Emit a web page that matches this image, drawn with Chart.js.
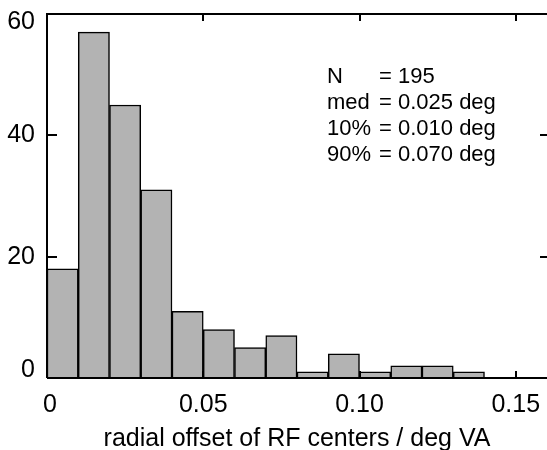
<!DOCTYPE html>
<html>
<head>
<meta charset="utf-8">
<script src="https://cdn.jsdelivr.net/npm/chart.js@4/dist/chart.umd.min.js"></script>
<style>
  html, body { margin: 0; padding: 0; background: #fff; }
  canvas { display: block; }
</style>
</head>
<body>
<canvas id="offsetHist" width="547" height="450"></canvas>
<script>
// histogram bins (left edge, deg) and counts
const binStarts = [0, 0.01, 0.02, 0.03, 0.04, 0.05, 0.06, 0.07, 0.08, 0.09, 0.10, 0.11, 0.12, 0.13];
const binWidth = 0.01;
const counts = [18, 57, 45, 31, 11, 8, 5, 7, 1, 4, 1, 2, 2, 1];

const xTicks = [0, 0.05, 0.10, 0.15];
const xTickLabels = ['0', '0.05', '0.10', '0.15'];
const yTicks = [0, 20, 40, 60];
const yTickLabels = ['0', '20', '40', '60'];

const statNames = ['N', 'med', '10%', '90%'];
const statValues = ['= 195', '= 0.025 deg', '= 0.010 deg', '= 0.070 deg'];

const xTitle = 'radial offset of RF centers / deg VA';

const FONT = '"Liberation Sans", Arial, sans-serif';

// frame, inward ticks, labels and the stats block
const framePlugin = {
    id: 'frame',
    afterDatasetsDraw(chart) {
        const { ctx, chartArea: a, scales: { x, y } } = chart;
        ctx.save();
        ctx.strokeStyle = '#000';
        ctx.lineWidth = 2;
        ctx.lineCap = 'butt';

        ctx.beginPath();
        ctx.moveTo(a.left, a.bottom);
        ctx.lineTo(a.left, a.top);
        ctx.lineTo(a.right, a.top);
        ctx.moveTo(a.left, a.bottom);
        ctx.lineTo(a.right, a.bottom);
        ctx.stroke();

        ctx.beginPath();
        xTicks.forEach((v) => {
            const px = Math.round(x.getPixelForValue(v));
            ctx.moveTo(px, a.bottom);
            ctx.lineTo(px, a.bottom - 7);
            ctx.moveTo(px, a.top);
            ctx.lineTo(px, a.top + 7);
        });
        yTicks.forEach((v) => {
            const py = Math.round(y.getPixelForValue(v));
            ctx.moveTo(a.left, py);
            ctx.lineTo(a.left + 10, py);
            ctx.moveTo(a.right, py);
            ctx.lineTo(a.right - 7, py);
        });
        ctx.stroke();

        ctx.fillStyle = '#000';
        ctx.font = '25px ' + FONT;

        ctx.textAlign = 'right';
        ctx.textBaseline = 'middle';
        yTicks.forEach((v, i) => {
            const py = Math.min(Math.max(y.getPixelForValue(v), a.top + 8), a.bottom - 8);
            ctx.fillText(yTickLabels[i], a.left - 12, py);
        });

        ctx.textAlign = 'center';
        ctx.textBaseline = 'alphabetic';
        xTicks.forEach((v, i) => {
            const px = Math.max(x.getPixelForValue(v), a.left + 3);
            ctx.fillText(xTickLabels[i], px, a.bottom + 34);
        });

        ctx.fillText(xTitle, (a.left + a.right) / 2, a.bottom + 68);

        ctx.font = '22px ' + FONT;
        ctx.textAlign = 'left';
        statNames.forEach((name, i) => {
            const by = 83 + i * 26;
            ctx.fillText(name, 327, by);
            ctx.fillText(statValues[i], 379, by);
        });
        ctx.restore();
    },
};

new Chart(document.getElementById('offsetHist').getContext('2d'), {
    type: 'bar',
    data: {
        datasets: [{
            data: binStarts.map((s, i) => ({ x: s + binWidth / 2, y: counts[i] })),
            backgroundColor: '#b3b3b3',
            borderColor: '#000',
            borderWidth: 1.5,
            borderSkipped: 'start',
            barPercentage: 1,
            categoryPercentage: 1,
        }],
    },
    options: {
        responsive: false,
        animation: false,
        layout: {
            padding: { left: 47, top: 14, right: 0, bottom: 72 },
        },
        plugins: {
            legend: { display: false },
            tooltip: { enabled: false },
        },
        scales: {
            x: {
                type: 'linear',
                min: 0,
                max: 0.16,
                offset: false,
                display: false,
            },
            y: {
                min: 0,
                max: 60,
                display: false,
            },
        },
    },
    plugins: [framePlugin],
});
</script>
</body>
</html>
